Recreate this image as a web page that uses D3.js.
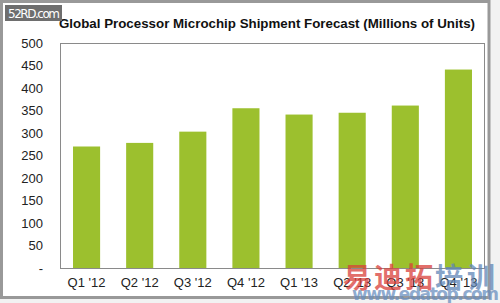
<!DOCTYPE html>
<html><head><meta charset="utf-8">
<script src="https://cdn.jsdelivr.net/npm/d3@7"></script>
<style>body{margin:0;background:#fff}svg{display:block}</style>
</head><body>
<svg id="c" width="500" height="303"></svg>
<script>
const categories = ["Q1 '12","Q2 '12","Q3 '12","Q4 '12","Q1 '13","Q2 '13","Q3 '13","Q4 '13"];
const shipments = [270, 278, 303, 355, 341, 345, 361, 441];
const yTicks = [0, 50, 100, 150, 200, 250, 300, 350, 400, 450, 500];
const title = "Global Processor Microchip Shipment Forecast (Millions of Units)";

const svg = d3.select("#c");
const font = "'Liberation Sans', Arial, sans-serif";
const m = {left: 60, right: 485, top: 43, bottom: 268};

// outer frame
svg.append("rect").attr("x",0).attr("y",0).attr("width",500).attr("height",303).attr("fill","#f2f2f2");
svg.append("rect").attr("x",1.5).attr("y",1.5).attr("width",487.5).attr("height",296).attr("fill","#fff").attr("stroke","#999").attr("stroke-width",3);

const x = d3.scaleBand().domain(categories).range([m.left, m.right]).paddingInner(0.49).paddingOuter(0.245);
const y = d3.scaleLinear().domain([0, 500]).range([m.bottom, m.top]);

// plot border
svg.append("rect").attr("x",m.left+0.5).attr("y",m.top+0.5).attr("width",m.right-m.left-1).attr("height",m.bottom-m.top).attr("fill","none").attr("stroke","#8a8a8a").attr("stroke-width",1);

// bars
svg.append("g").selectAll("rect").data(shipments).join("rect")
  .attr("x",(d,i)=>x(categories[i]))
  .attr("y",d=>y(d))
  .attr("width",x.bandwidth())
  .attr("height",d=>y(0)-y(d))
  .attr("fill","#9cc02e");

// y axis
const ya = svg.append("g").attr("transform",`translate(${m.left},0)`)
  .call(d3.axisLeft(y).tickValues(yTicks).tickSize(0).tickPadding(17).tickFormat(d=> d===0 ? "-" : d));
ya.select(".domain").remove();
ya.selectAll("text").attr("font-family",font).attr("font-size",13).attr("fill","#222");

// x axis
const xa = svg.append("g").attr("transform",`translate(0,${m.bottom})`)
  .call(d3.axisBottom(x).tickSize(0).tickPadding(10));
xa.select(".domain").remove();
xa.selectAll("text").attr("font-family",font).attr("font-size",13).attr("fill","#222");

// title
svg.append("text").attr("x",59).attr("y",28).attr("font-family",font).attr("font-weight","bold")
  .attr("font-size",13).attr("fill","#111").attr("textLength",416).attr("lengthAdjust","spacingAndGlyphs").text(title);

// watermark top-left
svg.append("rect").attr("x",5).attr("y",5).attr("width",57).attr("height",16).attr("fill","#6e6e6e");
svg.append("text").attr("x",8).attr("y",18).attr("font-family","'DejaVu Sans', sans-serif").attr("font-size",12).attr("fill","#fff").attr("textLength",52).text("52RD.com");

// watermark bottom-right
const wm = svg.append("g").attr("opacity",0.75);
wm.append("text").attr("x",343).attr("y",288).attr("font-family","'Noto Sans CJK SC', sans-serif").attr("font-weight","bold").attr("font-size",28).attr("fill","#d9403a").attr("textLength",90).text("易迪拓");
wm.append("text").attr("x",435).attr("y",288).attr("font-family","'Noto Sans CJK SC', sans-serif").attr("font-weight","bold").attr("font-size",28).attr("fill","#5f86b8").attr("textLength",60).text("培训");
wm.append("text").attr("x",352).attr("y",300).attr("font-family","'DejaVu Sans', sans-serif").attr("font-weight","bold").attr("font-size",17).attr("fill","#6a8fbf").attr("textLength",147).text("www.edatop.com");
</script>
</body></html>
